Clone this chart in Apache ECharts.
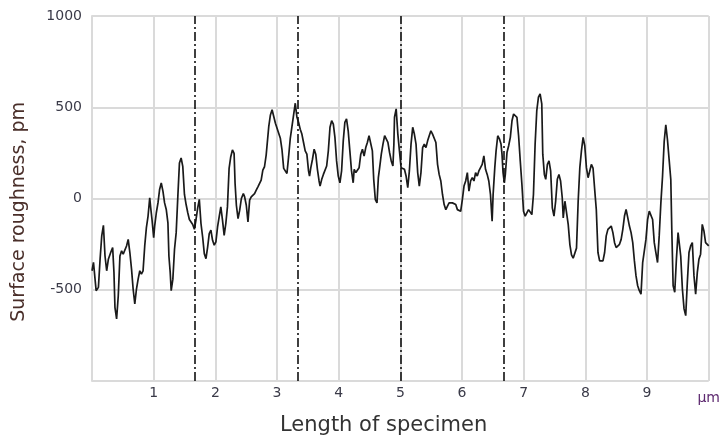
<!DOCTYPE html>
<html>
<head>
<meta charset="utf-8">
<script src="https://cdn.jsdelivr.net/npm/echarts@6/dist/echarts.min.js"></script>
<style>html,body{margin:0;padding:0;background:#fff;}#c{width:723px;height:444px;}</style>
</head>
<body>
<div id="c"></div>
<script>
// Position along specimen (µm)
const xPos = [
0.000,0.024,0.067,0.104,0.131,0.158,0.185,0.211,0.238,0.265,0.303,0.335,0.356,0.372,0.399,0.426,0.453,0.480,0.506,0.533,
0.560,0.587,0.614,0.641,0.667,0.694,0.721,0.748,0.775,0.801,0.828,0.855,0.882,0.909,0.936,0.952,0.973,1.000,1.016,1.043,
1.070,1.096,1.123,1.150,1.177,1.204,1.231,1.247,1.268,1.284,1.311,1.338,1.365,1.392,1.418,1.445,1.472,1.499,1.526,1.553,
1.579,1.606,1.633,1.660,1.687,1.714,1.740,
1.767,1.794,1.821,1.848,1.875,1.901,1.928,1.955,1.982,2.009,2.036,2.062,2.089,2.116,2.143,2.170,2.196,2.223,2.250,2.277,
2.304,2.320,2.341,2.368,2.395,2.422,2.454,2.475,2.502,2.529,2.556,2.582,2.609,2.636,2.663,2.690,2.716,2.743,2.770,2.797,
2.824,2.850,2.866,2.893,2.920,2.947,2.974,3.001,3.027,3.054,3.081,3.108,3.135,3.161,3.188,3.215,3.242,3.269,3.296,
3.323,3.350,3.376,3.403,3.430,3.457,3.484,3.511,3.527,3.548,3.575,3.602,3.628,3.655,3.682,3.698,3.725,3.752,3.778,3.805,
3.832,3.859,3.886,3.913,3.939,3.966,3.993,4.020,4.047,4.074,4.100,4.127,4.154,4.181,4.208,4.235,4.251,4.278,4.304,4.331,
4.358,4.385,4.412,4.439,4.465,4.492,4.519,4.546,4.568,4.594,4.621,4.643,4.664,4.691,4.718,4.745,4.772,4.798,4.825,4.852,
4.879,4.895,
4.905,4.932,4.959,4.985,5.012,5.039,5.066,5.093,5.120,5.146,5.173,5.200,5.227,5.254,5.281,5.307,5.334,5.361,5.388,5.415,
5.442,5.468,5.495,5.522,5.549,5.576,5.603,5.629,5.656,5.683,5.710,5.737,5.764,5.790,5.817,5.844,5.871,5.898,5.925,5.951,
5.978,6.005,6.032,6.059,6.086,6.112,6.139,6.166,6.193,6.220,6.247,6.273,6.300,6.327,6.354,6.381,6.408,6.434,6.461,6.488,
6.504,6.531,6.552,6.579,6.606,6.632,6.648,6.665,6.686,6.702,6.729,6.756,6.783,6.810,6.836,6.863,6.890,6.917,6.944,6.971,
6.997,7.024,7.051,7.078,7.105,7.132,7.158,7.185,7.212,7.239,7.266,7.293,7.309,7.335,7.357,7.384,7.410,7.437,7.464,7.491,
7.518,7.545,7.571,7.598,7.625,7.641,7.668,7.695,7.722,7.749,7.775,7.802,7.829,7.856,7.883,7.910,7.936,7.963,7.990,8.017,
8.044,8.071,8.097,
8.124,8.151,8.177,8.204,8.231,8.258,8.285,8.312,8.338,8.365,8.392,8.419,8.446,8.473,8.499,8.526,8.553,8.580,8.607,8.634,
8.660,8.687,8.714,8.741,8.768,8.795,8.821,8.848,8.875,8.902,8.929,8.956,8.982,9.009,9.036,9.063,9.090,9.117,9.143,9.170,
9.197,9.224,9.251,9.278,9.304,9.331,9.358,9.385,9.401,9.423,9.449,9.476,9.503,9.530,9.546,9.573,9.600,9.627,9.653,9.680,
9.707,9.734,9.761,9.788,9.815,9.841,9.868,9.895,9.922,9.949,9.976,10.000
];
// Surface roughness (pm)
const roughness = [
-396,-350,-505,-487,-333,-205,-147,-315,-396,-333,-296,-269,-405,-596,-660,-533,-315,-287,-305,-296,
-260,-224,-296,-387,-496,-578,-496,-442,-396,-414,-396,-260,-160,-96,4,-51,-115,-215,-151,-78,
-24,49,85,40,-24,-60,-133,-315,-405,-505,-442,-278,-187,13,195,222,176,22,-33,-78,
-115,-105,-142,-169,-115,-51,-5,
-137,-211,-302,-330,-266,-192,-174,-229,-256,-238,-156,-101,-46,-119,-202,-137,-46,165,229,266,
247,82,-37,-110,-64,0,27,9,-37,-128,-9,9,0,27,46,64,73,101,156,174,
238,247,394,458,486,449,412,403,357,330,266,165,156,137,229,330,394,458,522,
445,417,380,353,307,261,243,151,123,169,215,270,243,160,96,68,105,132,142,178,
261,390,426,408,335,206,123,86,151,316,417,436,371,261,151,86,160,142,132,169,
243,270,233,279,307,344,344,261,105,-6,-24,114,169,243,298,344,353,307,252,206,
178,298,
445,491,353,261,169,178,160,123,59,151,298,390,353,298,142,68,142,279,298,279,
316,344,371,353,362,307,187,132,96,22,-33,-61,-42,-24,-33,-24,-33,-33,-61,-70,
-70,-6,68,96,142,40,96,114,96,142,123,151,169,187,233,160,132,96,22,-125,
22,169,261,344,327,298,243,142,86,132,252,289,335,426,463,454,445,344,206,77,
-70,-97,-79,-61,-51,-88,22,298,482,555,573,518,243,132,105,187,206,151,-51,-97,
-15,105,132,96,4,-107,-15,-6,-143,-254,-309,-327,-327,-272,-15,169,261,335,289,169,
114,151,187,
167,49,-60,-296,-342,-351,-342,-296,-205,-169,-160,-151,-187,-242,-269,-278,-251,-224,-169,-96,
-60,-105,-151,-187,-242,-342,-424,-478,-505,-524,-351,-342,-224,-115,-69,-60,-115,-242,-296,-351,
-205,-24,122,313,404,322,213,104,-169,-478,-514,-333,-187,-196,-315,-496,-605,-642,-460,-296,
-260,-242,-424,-524,-405,-333,-305,-142,-178,-242,-233,-260
];
// Section boundaries (µm)
const sectionMarks = [1.667, 3.333, 5.0, 6.667];
const xTickLabels = {1:'1',2:'2',3:'3',4:'4',5:'5',6:'6',7:'7',8:'8',9:'9',10:'µm'};
const yTickLabels = {'-500':'-500','0':'0','500':'500','1000':'1000'};
const xTitle = 'Length of specimen';
const yTitle = 'Surface roughness, pm';

const data = xPos.map((x, i) => [x, roughness[i]]);
const font = 'DejaVu Sans';
const gridColor = '#dadada';
const labelColor = '#3a3a48';

const chart = echarts.init(document.getElementById('c'), null, {renderer: 'canvas'});
chart.setOption({
  animation: false,
  backgroundColor: '#ffffff',
  grid: {left: 92, right: 9, top: 16, bottom: 63, containLabel: false},
  xAxis: {
    type: 'value', min: 0, max: 10, interval: 1,
    axisLine: {show: true, lineStyle: {color: gridColor, width: 2}},
    axisTick: {show: false},
    splitLine: {show: true, lineStyle: {color: gridColor, width: 2}},
    axisLabel: {
      color: labelColor, fontFamily: font, fontSize: 14, margin: 5,
      formatter: v => (v in xTickLabels) ? (v === 10 ? '{u|' + xTickLabels[v] + '}' : xTickLabels[v]) : '',
      rich: {u: {color: '#5e2a70', fontFamily: font, fontSize: 14, padding: [5, 0, 0, 0]}}
    }
  },
  yAxis: {
    type: 'value', min: -1000, max: 1000, interval: 500,
    axisLine: {show: true, lineStyle: {color: gridColor, width: 2}},
    axisTick: {show: false},
    splitLine: {show: true, lineStyle: {color: gridColor, width: 2}},
    axisLabel: {
      color: labelColor, fontFamily: font, fontSize: 14, margin: 10,
      formatter: v => (String(v) in yTickLabels) ? yTickLabels[String(v)] : ''
    }
  },
  graphic: [
    {type: 'text', left: 280, top: 415, style: {text: xTitle, fill: '#333333', font: '21px "DejaVu Sans"'}},
    {type: 'text', left: 10, top: 102, rotation: Math.PI / 2, originX: 0, originY: 0,
     style: {text: yTitle, fill: '#4a2f2a', font: '19px "DejaVu Sans"'}}
  ],
  series: [{
    type: 'line', data: data, showSymbol: false, symbol: 'none',
    lineStyle: {color: '#1a1a1a', width: 1.7},
    markLine: {
      silent: true, symbol: 'none', label: {show: false},
      lineStyle: {color: '#111111', width: 1.6, type: [9, 3, 2, 3]},
      data: sectionMarks.map(v => ({xAxis: v}))
    }
  }]
});
</script>
</body>
</html>
